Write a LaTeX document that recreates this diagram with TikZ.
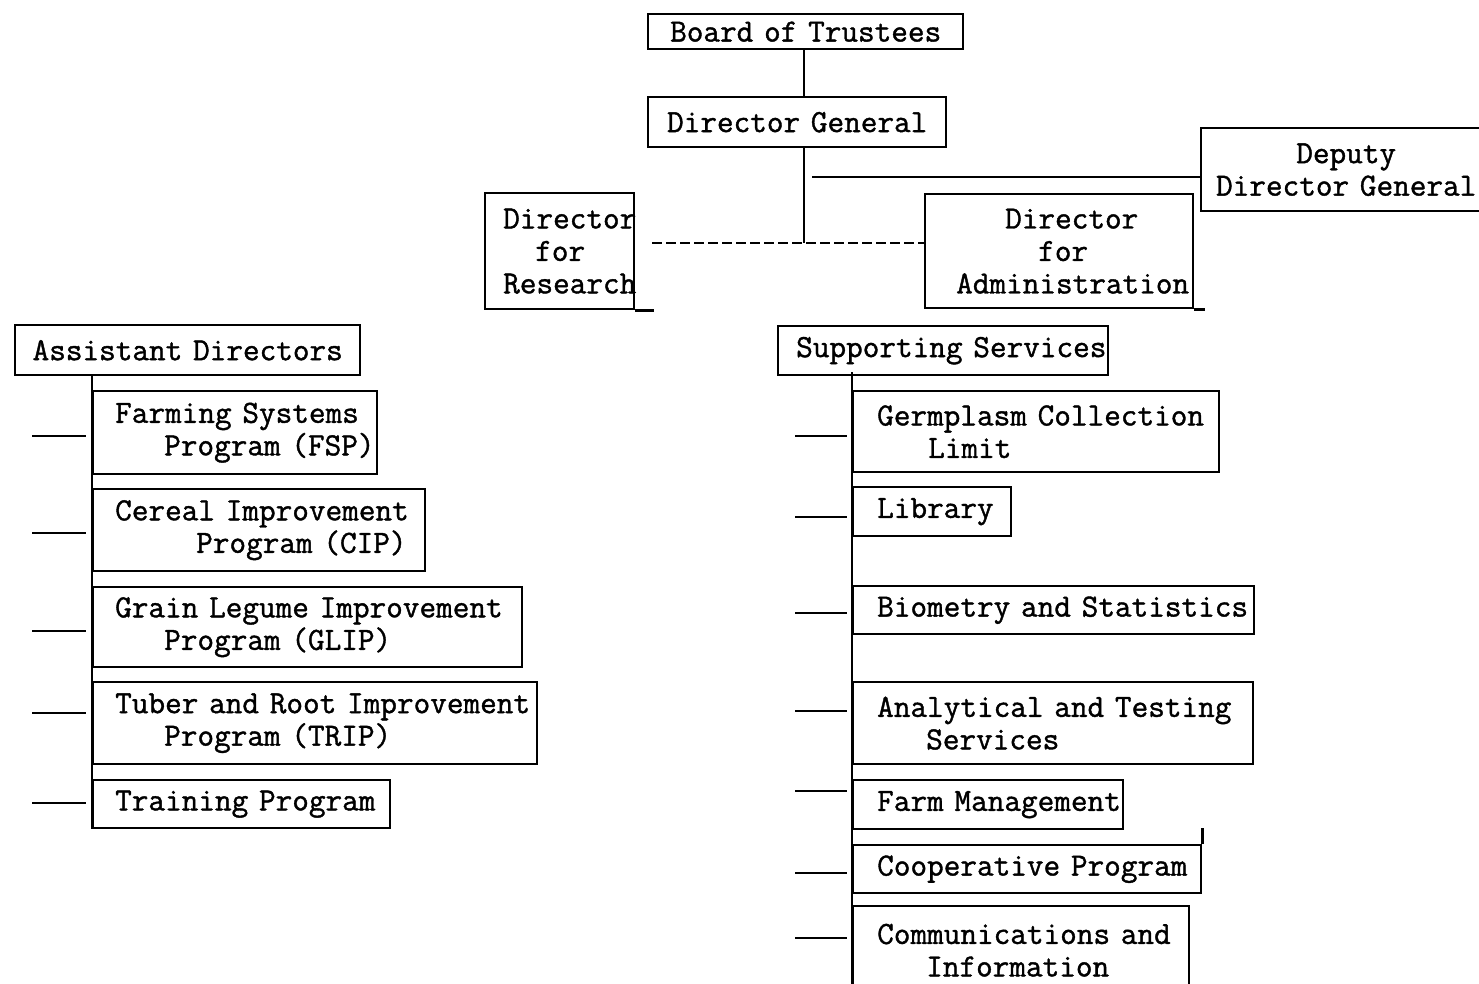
\documentclass[tikz,border=0pt]{standalone}
\usepackage{fontspec}
\newfontfamily\typewriter[FakeBold=1.2]{Latin Modern Mono}
\newcommand\tw{\fontsize{32.3pt}{32.5pt}\selectfont\typewriter}
\tikzset{
  box/.style={draw, line width=2.4pt, inner sep=0pt, anchor=north west, align=left, font=\tw},
  cbox/.style={box, align=center},
  wire/.style={line width=2.4pt},
  dashwire/.style={line width=2.4pt, dash pattern=on 10pt off 4pt},
}
\begin{document}
\begin{tikzpicture}[x=1pt, y=-1pt]
\useasboundingbox (0,0) rectangle (1479,983);
\clip (0,0) rectangle (1479,983);
\fill[white] (0,0) rectangle (1479,983);

% top of the hierarchy
\node[cbox, text width=315pt, minimum height=35pt] (board) at (647,13) {Board of Trustees};
\node[cbox, text width=298pt, minimum height=50pt] (dg) at (647,96) {Director General};
\node[cbox, text width=290pt, minimum height=83pt] (ddg) at (1200,127) {Deputy\\Director General};
\node[box, text width=149pt, minimum height=116pt] (res) at (484,192)
  {\hspace*{18pt}\mbox{Director}\\\hspace*{50pt}\mbox{for}\\\hspace*{18pt}\mbox{Research}};
\node[box, text width=268pt, minimum height=114pt] (adm) at (924,193)
  {\hspace*{80pt}\mbox{Director}\\\hspace*{113pt}\mbox{for}\\\hspace*{31pt}\mbox{Administration}};

\coordinate (jn) at (804,243);
\draw[wire] (804,48) -- (804,96);
\draw[wire] (804,146) -- (jn);
\draw[wire] (812,177) -- (ddg.west |- 0,177);
\draw[dashwire] (652,243) -- (jn) -- (adm.west |- jn);
\draw[wire] (res.south east) -- ++(19,0);
\draw[wire] (adm.south east) -- ++(11,0);

% programs under the assistant directors
\node[cbox, text width=345pt, minimum height=50pt] (asst) at (14,324) {Assistant Directors};
\node[box, text width=284pt, minimum height=83pt] (fsp) at (92,390)
  {\hspace*{22pt}Farming Systems\\\hspace*{71pt}Program (FSP)};
\node[box, text width=332pt, minimum height=82pt] (cip) at (92,488)
  {\hspace*{22pt}Cereal Improvement\\\hspace*{103pt}Program (CIP)};
\node[box, text width=429pt, minimum height=80pt] (glip) at (92,586)
  {\hspace*{22pt}Grain Legume Improvement\\\hspace*{71pt}Program (GLIP)};
\node[box, text width=444pt, minimum height=82pt] (trip) at (92,681)
  {\hspace*{22pt}Tuber and Root Improvement\\\hspace*{71pt}Program (TRIP)};
\node[box, text width=297pt, minimum height=48pt] (train) at (92,779)
  {\hspace*{22pt}Training Program};
\draw[wire] (92,374) -- (train.south west);
\foreach \y in {436,533,631,713,803}
  \draw[wire] (32,\y) -- (86,\y);

% supporting services
\node[box, text width=330pt, minimum height=49pt] (sup) at (777,325)
  {\hspace*{18pt}Supporting Services};
\node[box, text width=366pt, minimum height=81pt] (germ) at (852,390)
  {\hspace*{24pt}Germplasm Collection\\\hspace*{75pt}Limit};
\node[box, text width=158pt, minimum height=49pt] (lib) at (852,486)
  {\hspace*{24pt}Library};
\node[box, text width=401pt, minimum height=48pt] (bio) at (852,585)
  {\hspace*{24pt}Biometry and Statistics};
\node[box, text width=400pt, minimum height=82pt] (anal) at (852,681)
  {\hspace*{24pt}Analytical and Testing\\\hspace*{73pt}Services};
\node[box, text width=270pt, minimum height=49pt] (farm) at (852,779)
  {\hspace*{24pt}Farm Management};
\node[box, text width=348pt, minimum height=48pt] (coop) at (852,844)
  {\hspace*{24pt}Cooperative Program};
\node[box, text width=336pt, minimum height=88pt] (comm) at (852,905)
  {\hspace*{24pt}Communications and\\\hspace*{73pt}Information};
\draw[wire] (coop.north east) -- ++(0,-16);
\draw[wire] (852,372) -- (852,1000);
\foreach \y in {436,517,613,711,791,873,938}
  \draw[wire] (795,\y) -- (847,\y);
\end{tikzpicture}
\end{document}
